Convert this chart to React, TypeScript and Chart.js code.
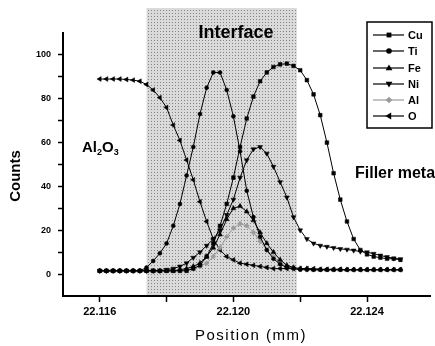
import React, { useEffect, useRef } from "react";
import { Chart, registerables } from "chart.js";

Chart.register(...registerables);

// ---- data ----
const positions = [
  22.116, 22.1162, 22.1164, 22.1166, 22.1168, 22.117, 22.1172, 22.1174, 22.1176, 22.1178,
  22.118, 22.1182, 22.1184, 22.1186, 22.1188, 22.119, 22.1192, 22.1194, 22.1196, 22.1198,
  22.12, 22.1202, 22.1204, 22.1206, 22.1208, 22.121, 22.1212, 22.1214, 22.1216, 22.1218,
  22.122, 22.1222, 22.1224, 22.1226, 22.1228, 22.123, 22.1232, 22.1234, 22.1236, 22.1238,
  22.124, 22.1242, 22.1244, 22.1246, 22.1248, 22.125,
];

const cu = [
  1.5, 1.5, 1.5, 1.5, 1.5, 1.5, 1.5, 1.5, 1.5, 1.5,
  1.5, 1.5, 1.5, 1.5, 2.5, 4, 8, 14, 22, 32,
  44, 58, 71, 81, 88, 92, 94.5, 95.7, 96, 95,
  93, 88.5, 82, 72.5, 60, 46, 34, 24, 16, 11,
  9, 8, 7.5, 7, 7, 6.5,
];

const ti = [
  1.5, 1.5, 1.5, 1.5, 1.5, 1.5, 1.5, 3, 6, 9.5,
  14, 22, 32, 45, 58, 73, 85, 92, 92, 84,
  72, 56, 38, 26, 17, 11, 7, 4.5, 3, 2.5,
  2, 2, 2, 2, 2, 2, 2, 2, 2, 2,
  2, 2, 2, 2, 2, 2,
];

const fe = [
  1.5, 1.5, 1.5, 1.5, 1.5, 1.5, 1.5, 1.5, 1.5, 1.5,
  1.5, 1.5, 2, 2.5, 3.5, 5, 8, 12, 18, 25,
  30, 31, 28.5, 24.5, 19, 14, 10, 6.5, 4, 3,
  2.5, 2.5, 2, 2, 2, 2, 2, 2, 2, 2,
  2, 2, 2, 2, 2, 2,
];

const ni = [
  1.5, 1.5, 1.5, 1.5, 1.5, 1.5, 1.5, 1.5, 1.5, 1.5,
  2, 2.5, 3.5, 5, 7.5, 10, 13, 16, 20, 27,
  34, 44, 52, 57, 58, 55, 49, 42, 35, 26,
  20, 16, 14, 13, 12.5, 12, 11.5, 11.2, 10.8, 10.3,
  10, 9.3, 8.5, 7.8, 7.2, 6.8,
];

const al = [
  1.5, 1.5, 1.5, 1.5, 1.5, 1.5, 1.5, 1.5, 1.5, 1.5,
  1.5, 1.5, 1.5, 2, 2.5, 3.5, 5, 8, 12, 17,
  21, 23, 22, 19, 15, 11, 8, 5, 3.5, 2.5,
  2.2, 2, 2, 2, 2, 2, 2, 2, 2, 2,
  2, 2, 2, 2, 2, 2,
];

const o = [
  89, 89, 89, 89, 88.8, 88.5, 88, 86.5, 84, 80.5,
  76, 68, 61, 52, 43, 33, 24, 16, 11, 8,
  6.5, 5, 4.5, 4, 3.5, 3, 2.5, 2.5, 2.5, 2.5,
  2.5, 2.5, 2.5, 2.2, 2.2, 2.2, 2.2, 2, 2, 2,
  2, 2, 2, 2, 2, 2,
];

const seriesNames = ["Cu", "Ti", "Fe", "Ni", "Al", "O"];
const seriesValues = [cu, ti, fe, ni, al, o];

const xTickValues = [22.116, 22.118, 22.12, 22.122, 22.124];
const xTickLabels = ["22.116", "", "22.120", "", "22.124"];
const yTickValues = [0, 10, 20, 30, 40, 50, 60, 70, 80, 90, 100];
const yTickLabels = ["0", "", "20", "", "40", "", "60", "", "80", "", "100"];

const interfaceRange = [22.1174, 22.1219];

// ---- styles ----
const FONT = "'Liberation Sans', Arial, sans-serif";
const seriesStyles = [
  { pointStyle: "rect", rotation: 0, color: "#000000", radius: 2.6 },
  { pointStyle: "circle", rotation: 0, color: "#000000", radius: 2 },
  { pointStyle: "triangle", rotation: 0, color: "#000000", radius: 2.8 },
  { pointStyle: "triangle", rotation: 180, color: "#000000", radius: 2.8 },
  { pointStyle: "rectRot", rotation: 0, color: "#9a9a9a", radius: 2.5 },
  { pointStyle: "triangle", rotation: -90, color: "#000000", radius: 2.8 },
];

function drawMarker(ctx: CanvasRenderingContext2D, style: string, rotation: number, x: number, y: number, r: number, color: string) {
  ctx.save();
  ctx.fillStyle = color;
  ctx.translate(x, y);
  ctx.rotate((rotation * Math.PI) / 180);
  ctx.beginPath();
  if (style === "rect") {
    const s = r / Math.SQRT2;
    ctx.rect(-s, -s, 2 * s, 2 * s);
  } else if (style === "circle") {
    ctx.arc(0, 0, r, 0, Math.PI * 2);
  } else if (style === "triangle") {
    ctx.moveTo(0, -r);
    ctx.lineTo(r * 0.95, r * 0.6);
    ctx.lineTo(-r * 0.95, r * 0.6);
    ctx.closePath();
  } else if (style === "rectRot") {
    ctx.moveTo(0, -r);
    ctx.lineTo(r, 0);
    ctx.lineTo(0, r);
    ctx.lineTo(-r, 0);
    ctx.closePath();
  }
  ctx.fill();
  ctx.restore();
}

function makePattern(ctx: CanvasRenderingContext2D) {
  const c = document.createElement("canvas");
  c.width = 3;
  c.height = 3;
  const p = c.getContext("2d")!;
  p.fillStyle = "#dadada";
  p.fillRect(0, 0, 3, 3);
  p.fillStyle = "#858585";
  p.fillRect(1, 1, 1, 1);
  return ctx.createPattern(c, "repeat");
}

const shadePlugin = {
  id: "shade",
  beforeDatasetsDraw(chart: any) {
    const { ctx, chartArea, scales } = chart;
    const x0 = scales.x.getPixelForValue(interfaceRange[0]);
    const x1 = scales.x.getPixelForValue(interfaceRange[1]);
    ctx.save();
    const pat = makePattern(ctx);
    ctx.fillStyle = pat || "#cccccc";
    ctx.fillRect(x0, 8, x1 - x0, chartArea.bottom - 1 - 8);
    ctx.restore();
  },
};

const annotationPlugin = {
  id: "annot",
  afterDraw(chart: any) {
    const { ctx } = chart;
    ctx.save();
    ctx.fillStyle = "#000";
    ctx.textBaseline = "alphabetic";

    // Interface
    ctx.font = `bold 18px ${FONT}`;
    ctx.textAlign = "center";
    ctx.fillText("Interface", 236, 38);

    // Filler metal
    ctx.font = `bold 16px ${FONT}`;
    ctx.textAlign = "left";
    ctx.fillText("Filler metal", 355, 178);

    // Al2O3
    let x = 82;
    const base = 152;
    ctx.font = `bold 15px ${FONT}`;
    ctx.fillText("Al", x, base);
    x += ctx.measureText("Al").width;
    ctx.font = `bold 9px ${FONT}`;
    ctx.fillText("2", x, base + 3);
    x += ctx.measureText("2").width;
    ctx.font = `bold 15px ${FONT}`;
    ctx.fillText("O", x, base);
    x += ctx.measureText("O").width;
    ctx.font = `bold 9px ${FONT}`;
    ctx.fillText("3", x, base + 3);

    // Axis titles
    ctx.save();
    ctx.translate(20, 176);
    ctx.rotate(-Math.PI / 2);
    ctx.font = `bold 15px ${FONT}`;
    ctx.textAlign = "center";
    ctx.fillText("Counts", 0, 0);
    ctx.restore();

    ctx.font = `15px ${FONT}`;
    ctx.textAlign = "center";
    (ctx as any).letterSpacing = "1.5px";
    ctx.fillText("Position (mm)", 251, 340);
    (ctx as any).letterSpacing = "0px";

    // Legend box
    ctx.fillStyle = "#ffffff";
    ctx.fillRect(367, 22, 65, 106);
    ctx.strokeStyle = "#000";
    ctx.lineWidth = 1.5;
    ctx.strokeRect(367, 22, 65, 106);
    const rows = [35, 51, 68, 84, 100, 116];
    seriesNames.forEach((name, i) => {
      const st = seriesStyles[i];
      const y = rows[i];
      ctx.strokeStyle = st.color;
      ctx.lineWidth = 1.2;
      ctx.beginPath();
      ctx.moveTo(373, y);
      ctx.lineTo(404, y);
      ctx.stroke();
      drawMarker(ctx, st.pointStyle, st.rotation, 389, y, st.radius + 0.8, st.color);
      ctx.fillStyle = "#000";
      ctx.font = `bold 11px ${FONT}`;
      ctx.textAlign = "left";
      ctx.textBaseline = "middle";
      ctx.fillText(name, 408, y + 0.5);
    });
    ctx.restore();
  },
};

export default function App() {
  const ref = useRef<HTMLCanvasElement | null>(null);

  useEffect(() => {
    if (!ref.current) return;
    const datasets = seriesNames.map((name, i) => {
      const st = seriesStyles[i];
      return {
        label: name,
        data: seriesValues[i].map((v, k) => ({ x: positions[k], y: v })),
        borderColor: st.color,
        backgroundColor: st.color,
        borderWidth: 1,
        pointStyle: st.pointStyle as any,
        rotation: st.rotation,
        pointRadius: st.radius,
        pointBorderWidth: 0.5,
        pointBackgroundColor: st.color,
        pointBorderColor: st.color,
        tension: 0,
        fill: false,
      };
    });

    const chart = new Chart(ref.current, {
      type: "line",
      data: { datasets },
      options: {
        animation: false,
        responsive: false,
        layout: { padding: { top: 33, right: 3, left: 0, bottom: 0 } },
        plugins: { legend: { display: false }, tooltip: { enabled: false } },
        scales: {
          x: {
            type: "linear",
            min: 22.1149,
            max: 22.1259,
            afterFit(scale: any) {
              scale.height = 50;
            },
            afterBuildTicks(scale: any) {
              scale.ticks = xTickValues.map((v) => ({ value: v }));
            },
            ticks: {
              autoSkip: false,
              maxRotation: 0,
              color: "#000",
              padding: 3,
              font: { family: FONT, size: 11, weight: "bold" },
              callback(value: any) {
                const idx = xTickValues.findIndex((t) => Math.abs(t - Number(value)) < 1e-7);
                return idx >= 0 ? xTickLabels[idx] : "";
              },
            },
            grid: {
              drawOnChartArea: false,
              drawTicks: true,
              tickLength: 6,
              tickColor: "#000",
              tickWidth: 1.5,
            },
            border: { display: true, color: "#000", width: 2 },
          },
          y: {
            type: "linear",
            min: -10,
            max: 110,
            afterFit(scale: any) {
              scale.width = 63;
            },
            afterBuildTicks(scale: any) {
              scale.ticks = yTickValues.map((v) => ({ value: v }));
            },
            ticks: {
              autoSkip: false,
              color: "#000",
              padding: 7,
              font: { family: FONT, size: 9, weight: "bold" },
              callback(value: any) {
                const idx = yTickValues.indexOf(Number(value));
                return idx >= 0 ? yTickLabels[idx] : "";
              },
            },
            grid: {
              drawOnChartArea: false,
              drawTicks: true,
              tickLength: 5,
              tickColor: "#000",
              tickWidth: 1.5,
            },
            border: { display: true, color: "#000", width: 2 },
          },
        },
      },
      plugins: [shadePlugin, annotationPlugin],
    });
    return () => chart.destroy();
  }, []);

  return (
    <div style={{ position: "fixed", left: 0, top: 0, width: 435, height: 346, background: "#fff" }}>
      <canvas ref={ref} width={435} height={346} style={{ display: "block" }} />
    </div>
  );
}
